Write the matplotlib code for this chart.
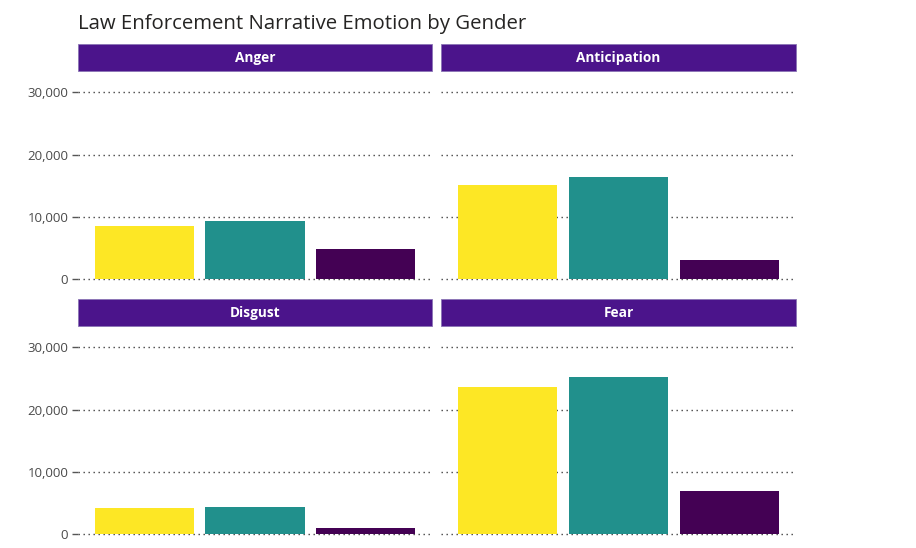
import matplotlib
matplotlib.use("Agg")
import matplotlib.pyplot as plt
from matplotlib.patches import Rectangle
from matplotlib.ticker import FuncFormatter

plt.rcParams['font.family'] = ['Open Sans', 'DejaVu Sans']

title = "Law Enforcement Narrative Emotion by Gender"
emotions = ["Anger", "Anticipation", "Disgust", "Fear"]
genders = ["Female", "Male", "Unknown"]
anger = [8620, 9310, 4820]
anticipation = [15040, 16370, 3050]
disgust = [4280, 4440, 1070]
fear = [23640, 25190, 7000]
values = [anger, anticipation, disgust, fear]
colors = ["#FDE725", "#21908C", "#440154"]
yticks = [0, 10000, 20000, 30000]

W, H = 916, 548
fig = plt.figure(figsize=(W / 100, H / 100), dpi=100)

# panel pixel boxes: (left, right, top, bottom)
lefts = [78, 441]
rights = [432, 796]
tops = [71, 326]
bottoms = [288, 543]
strip_h = 27
ylim = (-1400, 33400)

for i, emo in enumerate(emotions):
    r, c = divmod(i, 2)
    l, rt, t, b = lefts[c], rights[c], tops[r], bottoms[r]
    ax = fig.add_axes([l / W, 1 - b / H, (rt - l) / W, (b - t) / H])
    x = list(range(1, len(genders) + 1))
    ax.bar(x, values[i], width=0.9, color=colors, zorder=3)
    ax.set_xlim(0.4, 3.6)
    ax.set_ylim(*ylim)
    ax.set_yticks(yticks)
    ax.yaxis.grid(True, linestyle=(0, (1, 2.6)), color="#444444", linewidth=1.0, zorder=1)
    ax.set_xticks([])
    for s in ax.spines.values():
        s.set_visible(False)
    if c == 0:
        ax.yaxis.set_major_formatter(FuncFormatter(lambda v, p: f"{int(v):,}"))
        ax.tick_params(axis="y", length=4, width=1.0, color="#555555", pad=3,
                       labelsize=9.5, labelcolor="#4a4a4a")
    else:
        ax.tick_params(axis="y", length=0, labelleft=False)
    # strip
    sh = strip_h / (b - t)
    ax.add_patch(Rectangle((0, 1.0), 1, sh, transform=ax.transAxes, clip_on=False,
                           facecolor="#4B148B", edgecolor="#8a74b5", linewidth=0.6))
    ax.text(0.5, 1.0 + sh / 2 - 0.003, emo, transform=ax.transAxes, ha="center", va="center",
            color="white", fontsize=9.8, fontweight="bold")

fig.text(78 / W, 1 - 29 / H, title, ha="left", va="baseline", fontsize=14.7, color="#252423")

fig.savefig("out.png", dpi=100, facecolor="white")
